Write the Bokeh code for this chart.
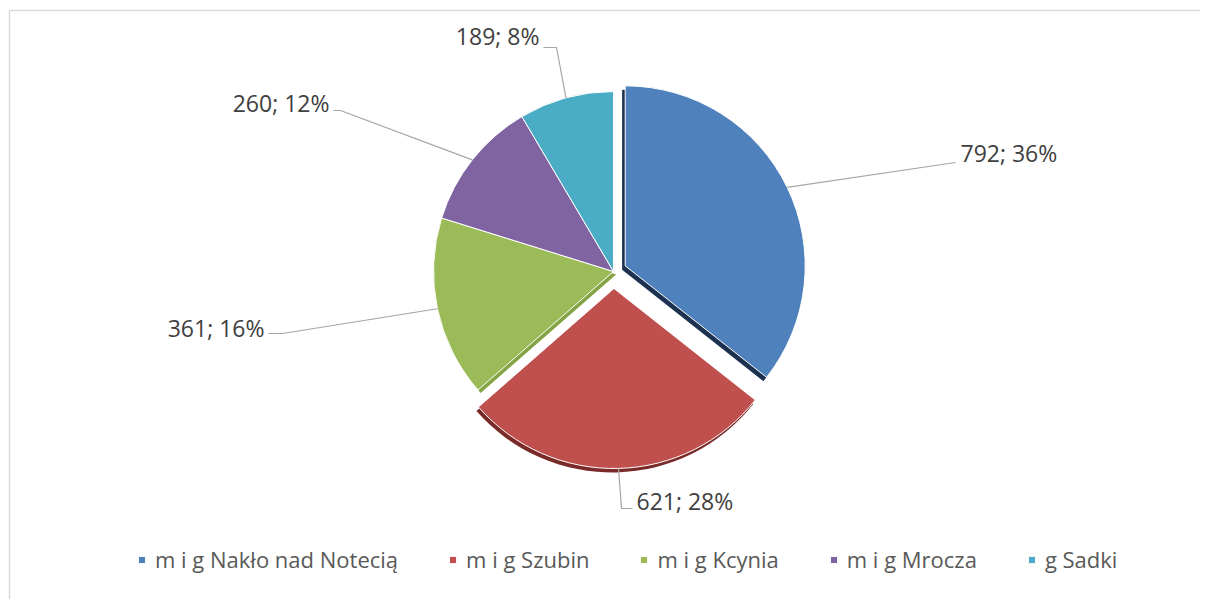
import numpy as np
from bokeh.plotting import figure
from bokeh.models import ColumnDataSource, Range1d, Legend, LegendItem
from bokeh.core.properties import value
from bokeh.embed import file_html
from bokeh.resources import INLINE

# ---- data ----
names = ["m i g Nakło nad Notecią", "m i g Szubin", "m i g Kcynia", "m i g Mrocza", "g Sadki"]
values = [792, 621, 361, 260, 189]
percents = [36, 28, 16, 12, 8]

# ---- styles / layout ----
colors = ["#4F81BD", "#C0504D", "#9BBB59", "#8064A2", "#4BACC6"]
explode = [13, 17, 0, 0, 0]
CX, CY, R = 613, -271, 180
FONT = "Open Sans"
W, H = 1200, 599
# label anchor (screen px, y down) and alignment
label_pos = [(960, 152, "left"), (636, 500, "left"), (264, 327, "right"),
             (329, 102, "right"), (539, 35, "right")]
# leader elbows / ends (screen px)
leader_pts = [[(955, 162)], [(621, 508), (632, 508)], [(282, 333), (268, 333)],
              [(340, 110), (333, 110)], [(556, 47), (543, 47)]]

vals = np.array(values, dtype=float)
frac = vals / vals.sum()
cum = np.concatenate([[0], np.cumsum(frac)])
start = np.pi / 2 - 2 * np.pi * cum[:-1]
end = np.pi / 2 - 2 * np.pi * cum[1:]
mid = (start + end) / 2
xs = CX + np.array(explode) * np.cos(mid)
ys = CY + np.array(explode) * np.sin(mid)

p = figure(width=W, height=H, output_backend="svg", toolbar_location=None,
           x_range=Range1d(0, W), y_range=Range1d(-H, 0), min_border=0)
p.axis.visible = False
p.grid.visible = False
p.outline_line_color = None
p.background_fill_color = "white"
p.border_fill_color = "white"

# chart-area border (top and left visible)
p.line(x=[9, 9, W + 10], y=[-H - 10, -10, -10], line_color="#D9D9D9", line_width=1.5)

# 3D-ish shadow bands
be = end[0]
off = 5
p.wedge(x=[xs[0] + off * np.sin(be)], y=[ys[0] - off * np.cos(be)], radius=R,
        start_angle=[start[0]], end_angle=[end[0]], direction="clock",
        fill_color="#1C3250", line_color=None)
gs = start[2]
off = 4
p.wedge(x=[xs[2] - off * np.sin(gs)], y=[ys[2] + off * np.cos(gs)], radius=R,
        start_angle=[start[2]], end_angle=[end[2]], direction="clock",
        fill_color="#84A344", line_color=None)
p.wedge(x=[xs[1] - 2], y=[ys[1] - 4], radius=R,
        start_angle=[start[1]], end_angle=[end[1]], direction="clock",
        fill_color="#7A2B29", line_color=None)

src = ColumnDataSource(dict(x=xs, y=ys, start=start, end=end, color=colors, name=names))
r = p.wedge(x="x", y="y", radius=R, start_angle="start", end_angle="end", direction="clock",
            fill_color="color", line_color="white", line_width=1, source=src)

# leader lines and labels
lx, ly = [], []
for i in range(len(values)):
    sx = xs[i] + R * np.cos(mid[i])
    sy = ys[i] + R * np.sin(mid[i])
    pts = [(sx, sy)] + [(a, -b) for a, b in leader_pts[i]]
    lx.append([q[0] for q in pts])
    ly.append([q[1] for q in pts])
p.multi_line(xs=lx, ys=ly, line_color="#A6A6A6", line_width=1.2)

for i, (px, py, al) in enumerate(label_pos):
    p.text(x=[px], y=[-py], text=[f"{values[i]}; {percents[i]}%"], text_align=al,
           text_baseline="middle", text_font=value(FONT), text_font_size="23px",
           text_color="#404040")

legend = Legend(items=[LegendItem(label=n, renderers=[r], index=i) for i, n in enumerate(names)],
                orientation="horizontal", location=(137, 25),
                label_text_font=FONT, label_text_font_size="22px", label_text_color="#595959",
                glyph_width=9, glyph_height=9, label_standoff=9, spacing=50,
                padding=0, margin=0, border_line_alpha=0, background_fill_alpha=0)
p.add_layout(legend, "center")

open("out.html", "w").write(file_html(p, INLINE))
